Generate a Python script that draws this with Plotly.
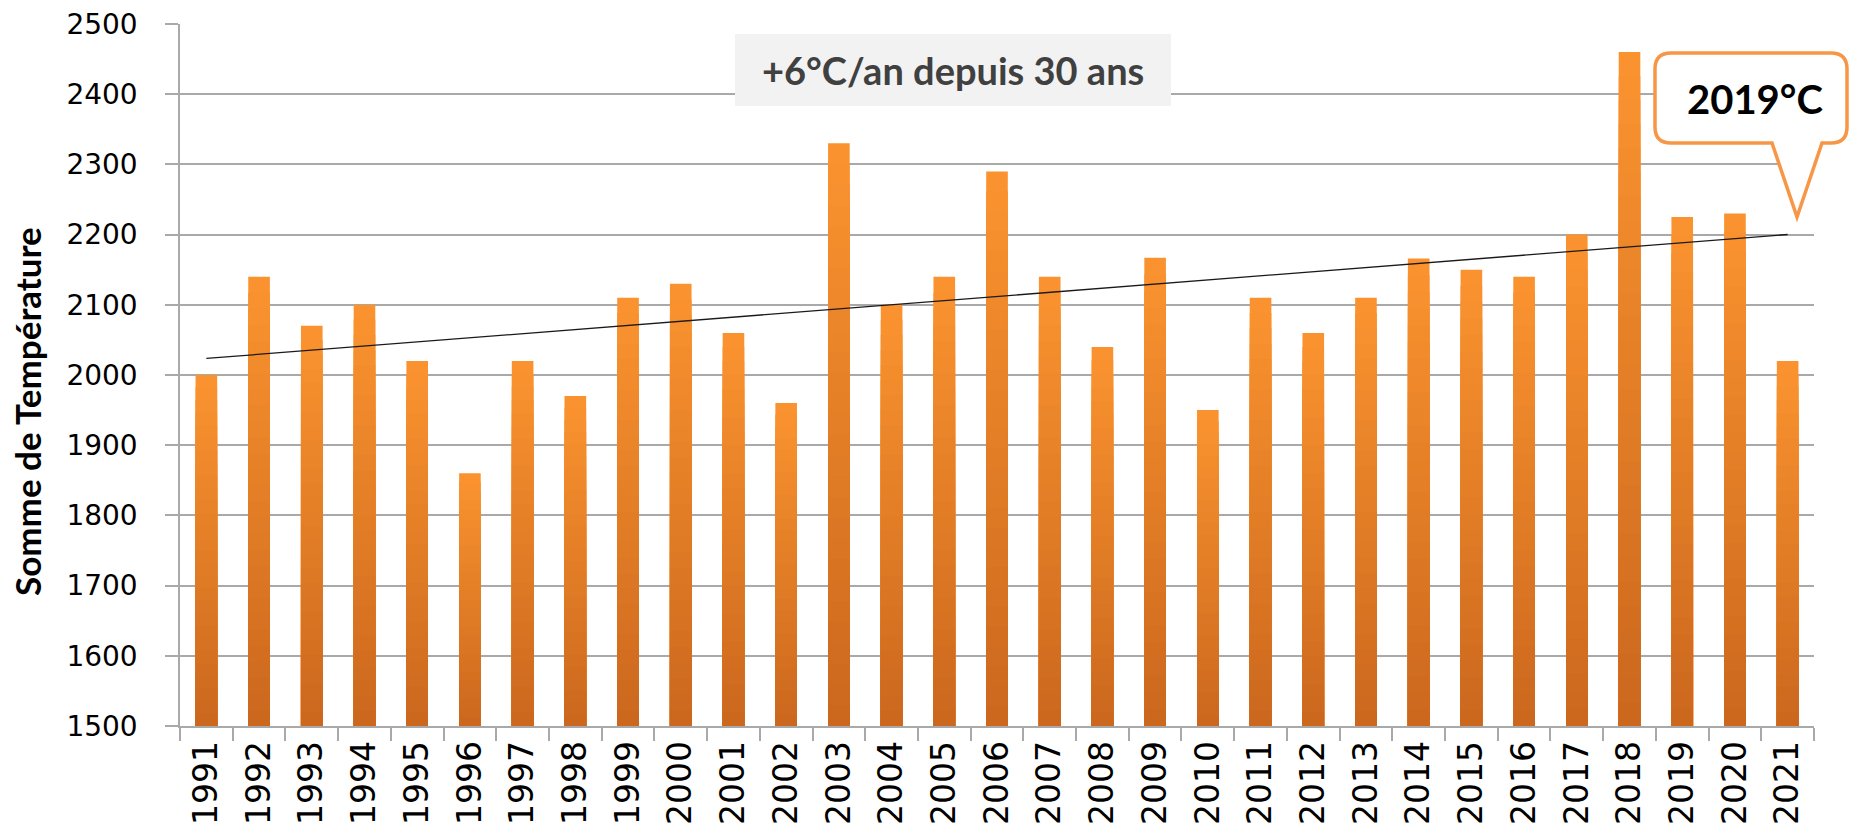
import plotly.graph_objects as go
import numpy as np

# ---- data ----
years = [str(y) for y in range(1991, 2022)]
values = [2000, 2140, 2070, 2100, 2020, 1860, 2020, 1970, 2110, 2130,
          2060, 1960, 2330, 2100, 2140, 2290, 2140, 2040, 2167, 1950,
          2110, 2060, 2110, 2166, 2150, 2140, 2200, 2460, 2225, 2230, 2020]
y_title = "Somme de Température"
trend_text = "+6°C/an depuis 30 ans"
callout_text = "2019°C"
y_min, y_max = 1500, 2500

# ---- layout geometry (pixels) ----
W, H = 1850, 827
ML, MR, MT, MB = 180, 36, 24, 101
PW, PH = W - ML - MR, H - MT - MB


def px(x):
    return (x - ML) / PW


def py(y):
    return (H - MB - y) / PH


fig = go.Figure()

# gradient bars (overlaid steps, light at top -> dark at bottom)
N = 28
top = np.array([250, 147, 47])
bot = np.array([204, 104, 30])
for k in range(N):
    f = 1 - k / N
    t = k / (N - 1)
    c = (top * (1 - t) + bot * t).round().astype(int)
    fig.add_trace(go.Bar(
        x=years,
        y=[(v - y_min) * f for v in values],
        base=y_min,
        width=0.41,
        marker=dict(color=f"rgb({c[0]},{c[1]},{c[2]})", line=dict(width=0)),
        hoverinfo="skip",
    ))

# linear trend fitted on the data
xi = np.arange(len(values))
slope, intercept = np.polyfit(xi, values, 1)
fig.add_trace(go.Scatter(
    x=[years[0], years[-1]],
    y=[intercept, intercept + slope * xi[-1]],
    mode="lines",
    line=dict(color="#1a1a1a", width=1.3),
    hoverinfo="skip",
))

grid = "#A9A9A9"
fig.update_layout(
    width=W, height=H,
    margin=dict(l=ML, r=MR, t=MT, b=MB, autoexpand=False),
    barmode="overlay",
    showlegend=False,
    plot_bgcolor="white",
    paper_bgcolor="white",
    font=dict(family="DejaVu Sans", color="black"),
    xaxis=dict(
        type="category",
        tickson="boundaries",
        ticks="outside", ticklen=13, tickwidth=1.5, tickcolor=grid,
        showline=True, linecolor=grid, linewidth=1.5,
        showgrid=False,
        tickangle=-90,
        tickfont=dict(family="DejaVu Sans", size=33, color="black"),
        automargin=False,
    ),
    yaxis=dict(
        range=[y_min, y_max],
        dtick=100,
        ticks="outside", ticklen=13, tickwidth=1.5, tickcolor=grid,
        showline=True, linecolor=grid, linewidth=1.5,
        showgrid=True, gridcolor=grid, gridwidth=1.5,
        zeroline=False,
        ticklabelstandoff=22,
        tickfont=dict(family="DejaVu Sans", size=28, color="black"),
        automargin=False,
    ),
)

# y-axis title
fig.add_annotation(
    text=f"<b>{y_title}</b>", textangle=-90,
    xref="paper", yref="paper", x=px(27), y=py(412),
    xanchor="center", yanchor="middle",
    showarrow=False, font=dict(family="Lato", size=35, color="black"),
)

# grey trend label box
fig.add_shape(type="rect", xref="paper", yref="paper",
              x0=px(735), x1=px(1171), y0=py(106), y1=py(34),
              fillcolor="#F2F2F2", line=dict(width=0), layer="above")
fig.add_annotation(
    text=f"<b>{trend_text}</b>",
    xref="paper", yref="paper", x=px(953), y=py(70),
    xanchor="center", yanchor="middle",
    showarrow=False, font=dict(family="Lato", size=38, color="#404040"),
)

# callout bubble
L, R, T, B, r = 1655, 1847, 53, 143, 16
b1, b2, tipx, tipy = 1772, 1822, 1797, 217


def P(x, y):
    return f"{px(x):.5f},{py(y):.5f}"


path = (
    f"M {P(L + r, T)} L {P(R - r, T)} Q {P(R, T)} {P(R, T + r)} "
    f"L {P(R, B - r)} Q {P(R, B)} {P(R - r, B)} "
    f"L {P(b2, B)} L {P(tipx, tipy)} L {P(b1, B)} "
    f"L {P(L + r, B)} Q {P(L, B)} {P(L, B - r)} "
    f"L {P(L, T + r)} Q {P(L, T)} {P(L + r, T)} Z"
)
fig.add_shape(type="path", xref="paper", yref="paper", path=path,
              fillcolor="white", line=dict(color="#F79646", width=3.5),
              layer="above")
fig.add_annotation(
    text=f"<b>{callout_text}</b>",
    xref="paper", yref="paper", x=px(1755), y=py(99),
    xanchor="center", yanchor="middle",
    showarrow=False, font=dict(family="Lato", size=40, color="black"),
)

fig.write_html("out.html", config={"displayModeBar": False},
               post_script="document.body.style.margin='0';")
